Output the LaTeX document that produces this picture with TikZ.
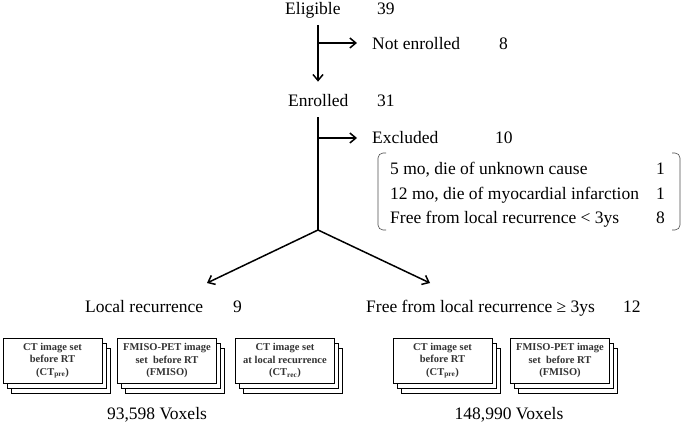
\documentclass[tikz,border=0pt]{standalone}
\usepackage{fontspec}
\setmainfont{Liberation Serif}
\usetikzlibrary{arrows.meta,positioning,calc,shadows}

\begin{document}
\begin{tikzpicture}[x=1pt,y=-1pt,font=\fontsize{17.5}{21}\selectfont,
  lbl/.style={anchor=base west,inner sep=0pt},
  flow/.style={line width=1.5pt,-{Straight Barb[length=6pt,width=10pt,line width=1.5pt]}},
  imgbox/.style={draw,fill=white,line width=0.9pt,minimum width=99pt,minimum height=45pt,
    inner sep=1pt,align=center,font=\fontsize{10.5}{12.5}\selectfont\bfseries,
    text=black!80,
    double copy shadow={shadow xshift=4pt,shadow yshift=-5pt,draw,fill=white,line width=0.9pt}}]
\useasboundingbox (0,0) rectangle (685,427);
% counts
\node[lbl] (elig) at (285,15) {Eligible};
\node[lbl] (eligN) at (377,15) {39};
\node[lbl] (notenr) at (372,50) {Not enrolled};
\node[lbl] (notenrN) at (499,50) {8};
\node[lbl] (enr) at (288,107) {Enrolled};
\node[lbl] (enrN) at (377,107) {31};
\node[lbl] (excl) at (372,144) {Excluded};
\node[lbl] (exclN) at (495,144) {10};
% reasons for exclusion
\node[lbl] (c1) at (390,175) {5 mo, die of unknown cause};
\node[lbl] (c1N) at (656,175) {1};
\node[lbl] (c2) at (390,200) {12 mo, die of myocardial infarction};
\node[lbl] (c2N) at (656,200) {1};
\node[lbl] (c3) at (390,224) {Free from local recurrence < 3ys};
\node[lbl] (c3N) at (656,224) {8};
\draw[gray!60!black,line width=0.6pt,rounded corners=5pt] (386,153) -- (378,153) -- (378,230) -- (386,230);
\draw[gray!60!black,line width=0.6pt,rounded corners=5pt] (672,153) -- (680,153) -- (680,230) -- (672,230);
% groups
\node[lbl] (loc) at (85,313) {Local recurrence};
\node[lbl] (locN) at (233,313) {9};
\node[lbl] (free) at (366,313) {Free from local recurrence ≥ 3ys};
\node[lbl] (freeN) at (623,313) {12};
% image sets
\node[imgbox] (ct1) at (52.5,360.5) {CT image set\\before RT\\(CT\textsubscript{pre})};
\node[imgbox] (pet1) at (167,360.5) {FMISO-PET image\\set\ \ before RT\\(FMISO)};
\node[imgbox] (rec1) at (285,360.5) {CT image set\\at local recurrence\\(CT\textsubscript{rec})};
\node[imgbox] (ct2) at (442.5,360.5) {CT image set\\before RT\\(CT\textsubscript{pre})};
\node[imgbox] (pet2) at (560,360.5) {FMISO-PET image\\set\ \ before RT\\(FMISO)};
\node (vox1) at (157,415) {93,598 Voxels};
\node (vox2) at (509,415) {148,990 Voxels};
% connectors
\coordinate (b1) at (318,43);
\coordinate (b2) at (318,138);
\coordinate (sp) at (318,230);
\coordinate (tl) at (207,283);
\coordinate (tr) at (430,283);
\draw[flow,shorten <=6pt,shorten >=13pt] (elig.south -| b1) -- (enr.north -| b1);
\draw[flow,shorten >=15pt] (b1) -- (b1 -| notenr.west);
\draw[line width=1.5pt,shorten <=10pt] (enr.south -| sp) -- (sp);
\draw[flow,shorten >=15pt] (b2) -- (b2 -| excl.west);
\draw[flow] (sp) -- (tl);
\draw[flow] (sp) -- (tr);
\end{tikzpicture}
\end{document}
